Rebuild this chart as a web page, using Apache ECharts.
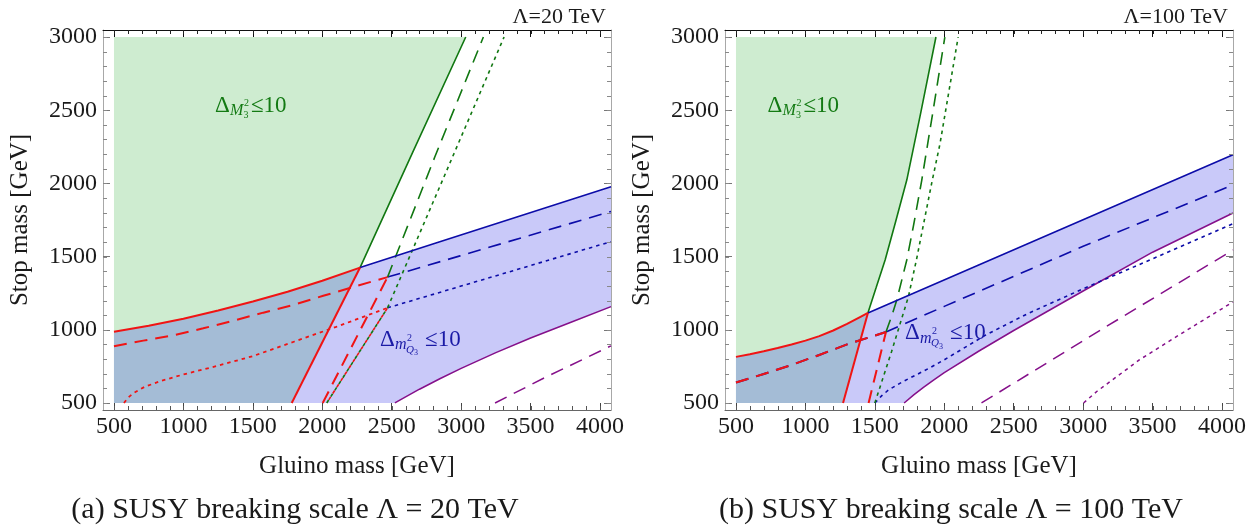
<!DOCTYPE html>
<html>
<head>
<meta charset="utf-8">
<script src="https://cdn.jsdelivr.net/npm/echarts@6/dist/echarts.min.js"></script>
<style>
html,body{margin:0;padding:0;background:#fff;}
#c{width:1260px;height:529px;}
</style>
</head>
<body>
<div id="c"></div>
<script>
// ---------- axis ticks ----------
const X_TICKS = [500, 1000, 1500, 2000, 2500, 3000, 3500, 4000];
const Y_TICKS = [500, 1000, 1500, 2000, 2500, 3000];
const X_RANGE = [421, 4079];
const Y_RANGE = [452, 3048];

// ---------- Panel (a): Lambda = 20 TeV ----------
const a_redSolidCurve = [[500,987],[750,1028],[1000,1076],[1250,1132],[1500,1193],[1750,1260],[2000,1335],[2272,1425]];
const a_redSolidLine  = [[1780,500],[2272,1425]];
const a_greenSolid    = [[2272,1425],[2650,2210],[3033,3000]];
const a_blueSolid     = [[2272,1425],[2824,1594],[4079,1977]];
const a_purpleSolid   = [[2523,500],[2600,542],[2700,594],[2850,667],[3000,736],[3250,844],[3500,944],[3800,1055],[4079,1158]];
const a_purpleDashed  = [[3244,500],[3600,672],[4079,890]];
const a_redDashedCurve= [[500,887],[711,926],[939,964],[1143,1010],[1359,1062],[1575,1117],[1791,1170],[2007,1232],[2250,1300],[2470,1360]];
const a_redDashedLine = [[2003,500],[2470,1360]];
const a_blueDashed    = [[2470,1360],[2992,1505],[4079,1808]];
const a_greenDashed   = [[2470,1360],[2810,2180],[3160,3000]];
const a_redDottedCurve= [[572,500],[600,535],[639,566],[720,610],[831,648],[1000,695],[1250,755],[1500,820],[1800,920],[2100,1020],[2300,1090],[2470,1150]];
const a_redDottedLine = [[2032,500],[2470,1150]];
const a_greenDotted   = [[2470,1150],[2890,2075],[3309,3000]];
const a_blueDotted    = [[2470,1150],[2824,1249],[4079,1602]];

// ---------- Panel (b): Lambda = 100 TeV ----------
const b_redSolidCurve = [[500,815],[600,833],[700,853],[800,875],[900,899],[1000,926],[1100,957],[1200,995],[1300,1040],[1400,1090],[1450,1115]];
const b_redSolidLine  = [[1271,500],[1450,1115]];
const b_greenSolid    = [[1450,1115],[1510,1290],[1574,1477],[1650,1740],[1730,2023],[1830,2480],[1940,3000]];
const b_blueSolid     = [[1450,1115],[2256,1446],[4079,2196]];
const b_purpleSolid   = [[1711,500],[1780,555],[1850,606],[1925,658],[2000,707],[2250,855],[2500,995],[3000,1265],[3500,1530],[4079,1798]];
const b_purpleDashed  = [[2268,500],[3165,1021],[4079,1545]];
const b_purpleDotted  = [[3003,500],[3100,580],[3404,794],[3700,970],[4079,1190]];
const b_blueDotted    = [[1500,500],[1550,550],[1600,590],[1700,645],[1800,693],[1900,742],[2000,795],[2300,965],[2600,1110],[3000,1280],[3500,1485],[4079,1725]];
const b_redDashedCurve= [[500,640],[700,698],[900,760],[1100,828],[1300,900],[1580,985]];
const b_redDashedLine = [[1455,500],[1580,985]];
const b_blueDashed    = [[1580,985],[2000,1160],[3000,1570],[4079,1990]];
const b_greenDashed   = [[1580,985],[1620,1090],[1658,1203],[1730,1477],[1780,1720],[1838,2023],[1920,2500],[2004,3000]];
const b_greenDotted   = [[1500,500],[1620,850],[1742,1227],[1800,1480],[1909,2000],[1969,2270],[2100,3000]];

// ---------- labels ----------
const a_labels = [[1227,2530,'M'],[2416,930,'m']];
const b_labels = [[727,2530,'M'],[1718,975,'m']];
const TITLES = ['Λ=20 TeV','Λ=100 TeV'];
const CAPTIONS = ['(a) SUSY breaking scale Λ = 20 TeV','(b) SUSY breaking scale Λ = 100 TeV'];
const X_NAME = 'Gluino mass [GeV]';
const Y_NAME = 'Stop mass [GeV]';

// ---------- styles ----------
const FONT = 'Liberation Serif, DejaVu Serif, serif';
const C = {
  greenFill:'#ceecd0', blueFill:'#c9c9f9', overlap:'#a4bcd6',
  green:'#117711', blue:'#0c0ca8', red:'#f01414', purple:'#85108a',
  greenText:'#137a13', blueText:'#1a1aa6'
};
const DASH = [13, 8];
const DOT = [3.5, 4];

function minorVals(lo, hi){ const v=[]; for(let t=lo;t<=hi;t+=100) v.push(t); return v; }

function buildFills(curve, bound, blueTop, purple){
  const green = [[500,500], ...bound, [500,3000]];
  const lastTop = blueTop[blueTop.length-1];
  const lastP = purple[purple.length-1];
  const blue = [...curve, ...blueTop.slice(1), [lastTop[0], lastP[1]], ...purple.slice(0, -1).reverse(), [500,500]];
  const overlap = [...curve, bound[0], [500,500]];
  return {green, blue, overlap};
}

function polySeries(points, color, gi, z){
  return {
    type:'custom', xAxisIndex:gi*2, yAxisIndex:gi*2, silent:true, clip:true, z:z,
    data:[[points[0][0], points[0][1]]],
    renderItem:function(params, api){
      const pts = points.map(p => api.coord(p));
      return {type:'polygon', shape:{points:pts}, style:{fill:color, stroke:null}};
    }
  };
}
function lineSeries(data, color, width, type, gi, z, offset){
  return {
    type:'line', xAxisIndex:gi*2, yAxisIndex:gi*2, data:data, showSymbol:false, symbol:'none',
    silent:true, animation:false, z:z||3, clip:true,
    lineStyle:{color:color, width:width, type:type, dashOffset:offset||0, cap:'butt'}
  };
}
function minorTickSeries(gi){
  const xm = minorVals(500,4000), ym = minorVals(500,3000);
  const data = xm.map(v=>[v, Y_RANGE[0], 0]).concat(ym.map(v=>[X_RANGE[0], v, 1]));
  return {
    type:'custom', xAxisIndex:gi*2, yAxisIndex:gi*2, silent:true, clip:false, z:20,
    data:data,
    renderItem:function(params, api){
      const kind = api.value(2);
      const L = 4;
      if(kind === 0){
        const b = api.coord([api.value(0), Y_RANGE[0]]);
        const t = api.coord([api.value(0), Y_RANGE[1]]);
        const x = Math.round(b[0]) + 0.5;
        return {type:'group', children:[
          {type:'line', shape:{x1:x, y1:b[1], x2:x, y2:b[1]-L}, style:{stroke:'#555', lineWidth:1}},
          {type:'line', shape:{x1:x, y1:t[1], x2:x, y2:t[1]+L}, style:{stroke:'#222', lineWidth:1}}
        ]};
      } else {
        const l = api.coord([X_RANGE[0], api.value(1)]);
        const r = api.coord([X_RANGE[1], api.value(1)]);
        const y = Math.round(l[1]) + 0.5;
        return {type:'group', children:[
          {type:'line', shape:{x1:l[0], y1:y, x2:l[0]+L, y2:y}, style:{stroke:'#888', lineWidth:1}},
          {type:'line', shape:{x1:r[0], y1:y, x2:r[0]-L, y2:y}, style:{stroke:'#888', lineWidth:1}}
        ]};
      }
    }
  };
}
function labelSeries(labels, gi){
  return {
    type:'custom', xAxisIndex:gi*2, yAxisIndex:gi*2, silent:true, z:10, clip:false,
    data:labels.map(l=>[l[0], l[1]]),
    renderItem:function(params, api){
      const p = api.coord([api.value(0), api.value(1)]);
      const kind = labels[params.dataIndex][2];
      const t = (txt, dx, dy, size, color, italic) => ({
        type:'text', x:p[0]+dx, y:p[1]+dy,
        style:{text:txt, fill:color, font:(italic?'italic ':'')+size+'px '+FONT, textAlign:'left', textVerticalAlign:'middle'}
      });
      if(kind==='M'){
        const col = C.greenText;
        return {type:'group', children:[
          t('Δ',0,0,23,col), t('M',15,5,16,col,true), t('2',29,-2,10,col), t('3',28.5,10,10,col),
          t('≤10',36,0,23,col)
        ]};
      } else {
        const col = C.blueText;
        return {type:'group', children:[
          t('Δ',0,0,23,col), t('m',15,5,16,col,true), t('2',27,-2,10,col), t('Q',26,10,11,col,true), t('3',34,13,8,col),
          t('≤10',45,0,23,col)
        ]};
      }
    }
  };
}

const plain = v => String(v);
function axesFor(gi){
  const base = {type:'value', gridIndex:gi, min:X_RANGE[0], max:X_RANGE[1], splitLine:{show:false}};
  const baseY = {type:'value', gridIndex:gi, min:Y_RANGE[0], max:Y_RANGE[1], splitLine:{show:false}};
  const xs = [
    Object.assign({}, base, {position:'bottom',
      axisLine:{show:true,onZero:false,lineStyle:{color:'#666',width:1}},
      axisTick:{show:true,inside:true,length:7,customValues:X_TICKS,lineStyle:{color:'#444'}},
      axisLabel:{show:true,customValues:X_TICKS,formatter:plain,fontFamily:FONT,fontSize:24,color:'#1a1a1a',margin:5},
      name:X_NAME,nameLocation:'middle',nameGap:44,nameTextStyle:{fontFamily:FONT,fontSize:25,color:'#1a1a1a'}}),
    Object.assign({}, base, {position:'top',
      axisLine:{show:true,onZero:false,lineStyle:{color:'#111',width:1}}, axisLabel:{show:false},
      axisTick:{show:true,inside:true,length:7,customValues:X_TICKS,lineStyle:{color:'#111'}}})
  ];
  const ys = [
    Object.assign({}, baseY, {position:'left',
      axisLine:{show:true,onZero:false,lineStyle:{color:'#a8a8a8',width:1}},
      axisTick:{show:true,inside:true,length:7,customValues:Y_TICKS,lineStyle:{color:'#777'}},
      axisLabel:{show:true,customValues:Y_TICKS,formatter:plain,fontFamily:FONT,fontSize:24,color:'#1a1a1a',margin:6},
      name:Y_NAME,nameLocation:'middle',nameRotate:90,nameGap:70,nameTextStyle:{fontFamily:FONT,fontSize:25,color:'#1a1a1a'}}),
    Object.assign({}, baseY, {position:'right',
      axisLine:{show:true,onZero:false,lineStyle:{color:'#a8a8a8',width:1}}, axisLabel:{show:false},
      axisTick:{show:true,inside:true,length:7,customValues:Y_TICKS,lineStyle:{color:'#777'}}})
  ];
  return {xs, ys};
}

const A = axesFor(0), B = axesFor(1);

const fa = buildFills(a_redSolidCurve, [...a_redSolidLine, ...a_greenSolid.slice(1)], a_blueSolid, a_purpleSolid);
const fb = buildFills(b_redSolidCurve, [...b_redSolidLine, ...b_greenSolid.slice(1)], b_blueSolid, b_purpleSolid);

function panelSeries(f, d, gi){
  const s = [
    polySeries(f.green, C.greenFill, gi, 1),
    polySeries(f.blue, C.blueFill, gi, 1),
    polySeries(f.overlap, C.overlap, gi, 1)
  ];
  d.forEach(x => s.push(lineSeries(x[0], x[1], x[2], x[3], gi, x[4], x[5])));
  s.push(minorTickSeries(gi));
  return s;
}

const seriesA = panelSeries(fa, [
  [a_purpleSolid, C.purple, 1.5, 'solid', 3],
  [a_purpleDashed, C.purple, 1.5, DASH, 3],
  [a_blueDotted, C.blue, 1.6, DOT, 3],
  [a_blueDashed, C.blue, 1.6, DASH, 3],
  [a_greenDotted, C.green, 1.6, DOT, 3],
  [a_greenDashed, C.green, 1.6, DASH, 3],
  [a_redDottedLine, C.green, 1.6, DOT, 3],
  [a_redDottedLine, C.red, 1.6, DOT, 4, 3.75],
  [a_redDottedCurve, C.red, 1.8, DOT, 4],
  [a_redDashedCurve, C.red, 2, DASH, 4],
  [a_redDashedLine, C.red, 2, DASH, 4],
  [a_greenSolid, C.green, 1.6, 'solid', 4],
  [a_blueSolid, C.blue, 1.6, 'solid', 4],
  [a_redSolidLine, C.red, 2, 'solid', 5],
  [a_redSolidCurve, C.red, 2, 'solid', 5]
], 0);
seriesA.push(labelSeries(a_labels, 0));

const seriesB = panelSeries(fb, [
  [b_purpleSolid, C.purple, 1.5, 'solid', 3],
  [b_purpleDashed, C.purple, 1.5, DASH, 3],
  [b_purpleDotted, C.purple, 1.5, DOT, 3],
  [b_blueDotted, C.blue, 1.6, DOT, 3],
  [b_blueDashed, C.blue, 1.6, DASH, 3],
  [b_greenDotted, C.green, 1.6, DOT, 3],
  [b_greenDashed, C.green, 1.6, DASH, 3],
  [b_redDashedCurve, C.blue, 2, DASH, 3],
  [b_redDashedCurve, C.red, 2, DASH, 4],
  [b_redDashedLine, C.red, 2, DASH, 4],
  [b_greenSolid, C.green, 1.6, 'solid', 4],
  [b_blueSolid, C.blue, 1.6, 'solid', 4],
  [b_redSolidLine, C.red, 2, 'solid', 5],
  [b_redSolidCurve, C.red, 2, 'solid', 5]
], 1);
seriesB.push(labelSeries(b_labels, 1));

const chart = echarts.init(document.getElementById('c'), null, {renderer:'canvas'});
chart.setOption({
  animation:false,
  backgroundColor:'#ffffff',
  grid:[
    {left:103, top:30, width:508, height:380, containLabel:false, outerBoundsMode:'none'},
    {left:725, top:30, width:508, height:380, containLabel:false, outerBoundsMode:'none'}
  ],
  xAxis:[...A.xs, ...B.xs],
  yAxis:[...A.ys, ...B.ys],
  series:[...seriesA, ...seriesB],
  graphic:[
    {type:'text', x:606, y:17, style:{text:TITLES[0], font:'22px '+FONT, fill:'#1a1a1a', textAlign:'right', textVerticalAlign:'middle'}},
    {type:'text', x:1228, y:17, style:{text:TITLES[1], font:'22px '+FONT, fill:'#1a1a1a', textAlign:'right', textVerticalAlign:'middle'}},
    {type:'text', x:295, y:510, style:{text:CAPTIONS[0], font:'30px '+FONT, fill:'#1a1a1a', textAlign:'center', textVerticalAlign:'middle'}},
    {type:'text', x:951, y:510, style:{text:CAPTIONS[1], font:'30px '+FONT, fill:'#1a1a1a', textAlign:'center', textVerticalAlign:'middle'}}
  ]
});
</script>
</body>
</html>
